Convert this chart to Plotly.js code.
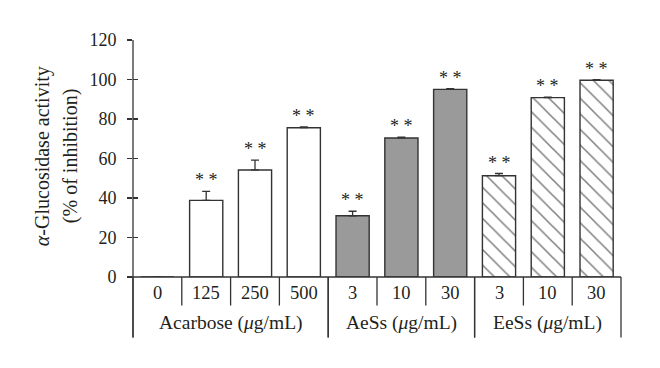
<!DOCTYPE html>
<html>
<head>
<meta charset="utf-8">
<script src="https://cdn.plot.ly/plotly-3.0.1.min.js"></script>
<style>html,body{margin:0;padding:0;background:#fff;}#chart{width:660px;height:368px;}</style>
</head>
<body>
<div id="chart"></div>
<script>
// ---- data ----
const groupLabels = ['Acarbose (<i>μ</i>g/mL)', 'AeSs (<i>μ</i>g/mL)', 'EeSs (<i>μ</i>g/mL)'];
const acarboseDoses = ['0', '125', '250', '500'];
const acarboseValues = [0, 38.8, 54.2, 75.6];
const acarboseErrors = [0, 4.6, 5.0, 0.4];
const aessDoses = ['3', '10', '30'];
const aessValues = [31.0, 70.4, 95.0];
const aessErrors = [2.3, 0.4, 0.4];
const eessDoses = ['3', '10', '30'];
const eessValues = [51.3, 90.8, 99.6];
const eessErrors = [1.1, 0.3, 0.3];
const significance = ['', '* *', '* *', '* *', '* *', '* *', '* *', '* *', '* *', '* *'];
const yTicks = [0, 20, 40, 60, 80, 100, 120];

// ---- style ----
const ink = '#231f20';
const lineCol = '#333333';
const font = 'Liberation Serif, Times New Roman, serif';

const groups = [
  {doses: acarboseDoses, values: acarboseValues, errors: acarboseErrors,
   marker: {color: '#ffffff', line: {color: lineCol, width: 1.4}}},
  {doses: aessDoses, values: aessValues, errors: aessErrors,
   marker: {color: '#9a9a9a', line: {color: lineCol, width: 1.4}}},
  {doses: eessDoses, values: eessValues, errors: eessErrors,
   marker: {color: '#ffffff', line: {color: lineCol, width: 1.4},
            pattern: {shape: '\\', size: 11, solidity: 0.14, fgcolor: '#000000', bgcolor: '#ffffff', fillmode: 'overlay'}}}
];

const traces = [];
const shapes = [];
const annotations = [];
let start = 0;
const nCats = groups.reduce((s, g) => s + g.doses.length, 0);
const allDoses = [], allTop = [];
const plotH = 236.7;
const innerBottom = -28.5 / plotH;
const outerBottom = -60.5 / plotH;

groups.forEach((g, gi) => {
  const xs = g.doses.map((_, i) => start + i);
  traces.push({
    type: 'bar', x: xs, y: g.values, width: 0.68,
    marker: g.marker,
    error_y: {type: 'data', symmetric: false, array: g.errors, arrayminus: g.errors.map(() => 0),
              color: lineCol, thickness: 1.3, width: 4},
    hoverinfo: 'skip', showlegend: false
  });
  g.doses.forEach((d, i) => { allDoses.push(d); allTop.push(g.values[i] + g.errors[i]); });
  // group label
  annotations.push({xref: 'paper', yref: 'paper', x: (start + g.doses.length / 2) / nCats, y: -45.5 / plotH,
    text: groupLabels[gi], showarrow: false, xanchor: 'center', yanchor: 'middle',
    font: {family: font, size: 19.5, color: ink}});
  // group dividers
  [start, start + g.doses.length].forEach(b => {
    shapes.push({type: 'line', xref: 'paper', yref: 'paper', x0: b / nCats, x1: b / nCats, y0: 0, y1: outerBottom,
      line: {color: lineCol, width: 1.3}});
  });
  for (let k = start + 1; k < start + g.doses.length; k++) {
    shapes.push({type: 'line', xref: 'paper', yref: 'paper', x0: k / nCats, x1: k / nCats, y0: 0, y1: innerBottom,
      line: {color: lineCol, width: 1.3}});
  }
  start += g.doses.length;
});

// dose labels
allDoses.forEach((d, i) => {
  annotations.push({xref: 'paper', yref: 'paper', x: (i + 0.5) / nCats, y: -15.5 / plotH,
    text: d, showarrow: false, xanchor: 'center', yanchor: 'middle',
    font: {family: font, size: 18.5, color: ink}});
});
// significance stars
allTop.forEach((t, i) => {
  if (!significance[i]) return;
  annotations.push({xref: 'x', yref: 'y', x: i, y: t, text: significance[i], showarrow: false,
    xanchor: 'center', yanchor: 'bottom', yshift: -1,
    font: {family: font, size: 18, color: ink}});
});
// x baseline and y axis extension
shapes.push({type: 'line', xref: 'paper', yref: 'paper', x0: -6 / 488, x1: 1, y0: 0, y1: 0,
  line: {color: lineCol, width: 1.3}});
shapes.push({type: 'line', xref: 'paper', yref: 'paper', x0: 0, x1: 0, y0: outerBottom, y1: 1,
  line: {color: lineCol, width: 1.3}});

// y title (two lines)
annotations.push({xref: 'paper', yref: 'paper', x: -91 / 488, y: 0.51, textangle: -90,
  text: '<i>α</i>-Glucosidase activity', showarrow: false, xanchor: 'center', yanchor: 'middle',
  font: {family: font, size: 20, color: ink}});
annotations.push({xref: 'paper', yref: 'paper', x: -63 / 488, y: 0.51, textangle: -90,
  text: '(% of inhibition)', showarrow: false, xanchor: 'center', yanchor: 'middle',
  font: {family: font, size: 20, color: ink}});

// invisible helper trace for inner ticks on y2
traces.push({type: 'scatter', x: [0], y: [0], yaxis: 'y2', mode: 'markers', marker: {opacity: 0},
  hoverinfo: 'skip', showlegend: false});

const layout = {
  width: 660, height: 368,
  margin: {l: 133, r: 39, t: 40, b: 91.3},
  paper_bgcolor: '#ffffff', plot_bgcolor: '#ffffff',
  barmode: 'overlay',
  xaxis: {range: [-0.5, nCats - 0.5], showticklabels: false, ticks: '', showgrid: false,
          zeroline: false, showline: false, fixedrange: true},
  yaxis: {range: [0, 120], tickvals: yTicks, ticktext: yTicks.map(String), ticks: 'outside', ticklen: 5,
          tickwidth: 1.3, tickcolor: lineCol, showgrid: false, zeroline: false, showline: false,
          ticklabelstandoff: 7,
          tickfont: {family: font, size: 18, color: ink}},
  yaxis2: {range: [0, 120], overlaying: 'y', side: 'left', tickvals: yTicks, ticks: 'inside', ticklen: 5,
           tickwidth: 1.3, tickcolor: lineCol, showticklabels: false, showgrid: false, zeroline: false,
           showline: false},
  shapes: shapes,
  annotations: annotations,
  showlegend: false
};

Plotly.newPlot('chart', traces, layout, {staticPlot: true, displayModeBar: false});
</script>
</body>
</html>
